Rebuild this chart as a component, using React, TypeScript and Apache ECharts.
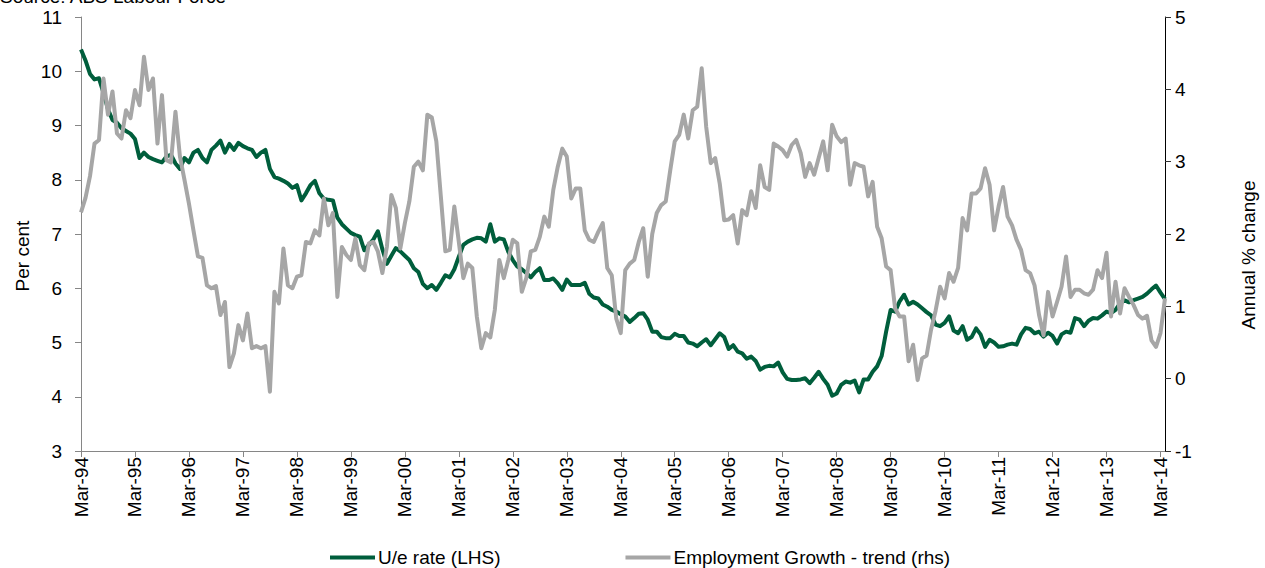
import React, { useEffect, useRef } from "react";
import * as echarts from "echarts";

const MONTHS = ["Jan", "Feb", "Mar", "Apr", "May", "Jun", "Jul", "Aug", "Sep", "Oct", "Nov", "Dec"];
// Monthly categories Mar-94 .. Apr-14
const categories: string[] = [];
for (let i = 0; i < 242; i++) {
  const m = (2 + i) % 12;
  const y = 94 + Math.floor((2 + i) / 12);
  categories.push(`${MONTHS[m]}-${String(y % 100).padStart(2, "0")}`);
}

const unemploymentRate = [
  10.4, 10.2, 9.95, 9.85, 9.87, 9.6, 9.3, 9.1, 9.05, 8.95, 8.9, 8.85,
  8.75, 8.4, 8.5, 8.42, 8.38, 8.35, 8.32, 8.43, 8.46, 8.3, 8.2, 8.4,
  8.32, 8.5, 8.55, 8.4, 8.32, 8.55, 8.63, 8.72, 8.5, 8.66, 8.55, 8.68,
  8.62, 8.58, 8.55, 8.42, 8.5, 8.55, 8.2, 8.05, 8.02, 7.98, 7.93, 7.85,
  7.9, 7.62, 7.75, 7.9, 7.98, 7.75, 7.65, 7.63, 7.62, 7.3, 7.18, 7.1,
  7.02, 6.98, 6.95, 6.7, 6.8, 6.9, 7.05, 6.72, 6.45, 6.6, 6.74, 6.68,
  6.6, 6.52, 6.37, 6.3, 6.08, 6.0, 6.06, 5.97, 6.1, 6.24, 6.2, 6.35,
  6.58, 6.8, 6.86, 6.9, 6.93, 6.92, 6.86, 7.18, 6.86, 6.92, 6.9, 6.67,
  6.52, 6.4, 6.35, 6.28, 6.2, 6.3, 6.37, 6.15, 6.15, 6.18, 6.09, 5.97,
  6.16, 6.06, 6.06, 6.06, 6.1, 5.9, 5.83, 5.81, 5.7, 5.66, 5.6, 5.57,
  5.52, 5.48, 5.38, 5.45, 5.53, 5.54, 5.42, 5.2, 5.2, 5.1, 5.08, 5.08,
  5.16, 5.12, 5.12, 5.0, 4.98, 4.93, 5.0, 5.06, 4.95, 5.06, 5.17, 5.1,
  4.88, 4.95, 4.83, 4.8, 4.7, 4.74, 4.66, 4.5, 4.55, 4.57, 4.56, 4.63,
  4.45, 4.33, 4.31, 4.31, 4.32, 4.34, 4.25, 4.35, 4.46, 4.33, 4.22, 4.02,
  4.06, 4.22, 4.28, 4.26, 4.3, 4.08, 4.32, 4.32, 4.46, 4.56, 4.75, 5.2,
  5.6, 5.57, 5.76, 5.88, 5.7, 5.75, 5.7, 5.63, 5.56, 5.5, 5.33, 5.3,
  5.36, 5.48, 5.22, 5.17, 5.3, 5.05, 5.1, 5.26, 5.15, 4.92, 5.05, 5.0,
  4.92, 4.93, 4.96, 4.98, 4.96, 5.15, 5.27, 5.25, 5.17, 5.2, 5.11, 5.18,
  5.12, 4.98, 5.15, 5.2, 5.18, 5.45, 5.42, 5.3, 5.4, 5.45, 5.44, 5.5,
  5.57, 5.54, 5.6, 5.72, 5.78, 5.74, 5.78, 5.81, 5.84, 5.9, 5.98, 6.05,
  5.92, 5.8,
];

const employmentGrowth = [
  2.3, 2.5, 2.8, 3.25, 3.3, 4.15, 3.65, 3.97, 3.39, 3.32, 3.71, 3.6,
  3.99, 3.78, 4.45, 3.99, 4.15, 3.25, 3.92, 3.02, 2.99, 3.69, 3.07, 2.75,
  2.42, 2.05, 1.69, 1.67, 1.29, 1.25, 1.28, 0.88, 1.06, 0.16, 0.35, 0.74,
  0.53, 0.9, 0.42, 0.45, 0.42, 0.45, -0.18, 1.2, 1.04, 1.8, 1.29, 1.25,
  1.41, 1.43, 1.89, 1.87, 2.05, 1.98, 2.49, 2.12, 2.29, 1.13, 1.82, 1.71,
  1.64, 1.94, 1.57, 1.5, 1.87, 1.89, 1.76, 1.46, 1.82, 2.54, 2.36, 1.8,
  2.15, 2.45, 2.93, 3.0, 2.88, 3.65, 3.61, 3.28, 2.52, 1.76, 1.78, 2.38,
  1.89, 1.39, 1.59, 1.53, 0.86, 0.42, 0.63, 0.57, 0.95, 1.64, 1.39, 1.64,
  1.92, 1.87, 1.2, 1.39, 1.76, 1.78, 1.96, 2.24, 2.1, 2.61, 2.93, 3.18,
  3.07, 2.49, 2.63, 2.63, 2.05, 1.92, 1.89, 2.03, 2.15, 1.53, 1.43, 0.83,
  0.63, 1.5, 1.59, 1.64, 1.89, 2.08, 1.41, 2.0, 2.29, 2.4, 2.45, 2.88,
  3.28, 3.37, 3.65, 3.32, 3.71, 3.76, 4.29, 3.48, 2.98, 3.05, 2.7, 2.19,
  2.2, 2.26, 1.87, 2.33, 2.26, 2.59, 2.36, 2.95, 2.65, 2.61, 3.25, 3.21,
  3.16, 3.07, 3.23, 3.3, 3.12, 2.79, 2.98, 2.82, 3.05, 3.28, 2.88, 3.51,
  3.35, 3.27, 3.32, 2.68, 2.98, 2.95, 2.93, 2.52, 2.72, 2.1, 1.94, 1.55,
  1.5, 0.97, 0.86, 0.86, 0.24, 0.47, -0.02, 0.28, 0.32, 0.68, 0.94, 1.27,
  1.11, 1.46, 1.34, 1.53, 2.22, 2.05, 2.56, 2.56, 2.63, 2.91, 2.68, 2.05,
  2.38, 2.65, 2.24, 2.12, 1.92, 1.78, 1.5, 1.46, 1.29, 0.88, 0.6, 1.2,
  0.86, 1.06, 1.27, 1.69, 1.13, 1.23, 1.23, 1.18, 1.16, 1.23, 1.5, 1.39,
  1.74, 0.86, 1.34, 0.9, 1.25, 1.13, 1.02, 0.88, 0.83, 0.87, 0.53, 0.44,
  0.63, 1.11,
];

const leftTicks = { min: 3, max: 11, interval: 1 };
const rightTicks = { min: -1, max: 5, interval: 1 };

const FONT = "'Liberation Sans', Arial, sans-serif";
const FS = 19;
const GREEN = "#005E3C";
const GREY = "#A6A6A6";

export default function App() {
  const ref = useRef<HTMLDivElement>(null);
  useEffect(() => {
    document.body.style.margin = "0";
    const chart = echarts.init(ref.current!, null, { renderer: "svg" });
    chart.setOption({
      animation: false,
      textStyle: { fontFamily: FONT },
      grid: { left: 81, right: 100, top: 17, bottom: 117, containLabel: false },
      legend: {
        left: 325,
        top: 543,
        itemGap: 125,
        itemWidth: 45,
        itemHeight: 4,
        icon: "rect",
        textStyle: { fontFamily: FONT, fontSize: FS, color: "#000", padding: [0, 0, 0, -2] },
        data: ["U/e rate (LHS)", "Employment Growth - trend (rhs)"],
      },
      graphic: [
        {
          type: "text",
          left: 0,
          top: -13,
          style: { text: "Source: ABS Labour Force", font: `${FS}px ${FONT}`, fill: "#000" },
        },
        {
          type: "text",
          x: 22,
          y: 256,
          rotation: Math.PI / 2,
          style: { text: "Per cent", font: `${FS}px ${FONT}`, fill: "#000", align: "center", verticalAlign: "middle" },
        },
        {
          type: "text",
          x: 1248,
          y: 255,
          rotation: Math.PI / 2,
          style: { text: "Annual % change", font: `${FS}px ${FONT}`, fill: "#000", align: "center", verticalAlign: "middle" },
        },
      ],
      xAxis: {
        type: "category",
        data: categories,
        boundaryGap: false,
        axisLine: { onZero: false, lineStyle: { color: "#868686", width: 1 } },
        axisTick: {
          length: 6,
          interval: (idx: number) => idx % 12 === 0,
          lineStyle: { color: "#868686" },
        },
        axisLabel: {
          interval: (idx: number) => idx % 12 === 0,
          rotate: 90,
          margin: 6,
          fontSize: FS,
          fontFamily: FONT,
          color: "#000",
        },
        splitLine: { show: false },
      },
      yAxis: [
        {
          type: "value",
          ...leftTicks,
          position: "left",
          axisLine: { show: true, lineStyle: { color: "#868686", width: 1 } },
          axisTick: { show: true, length: 6, lineStyle: { color: "#868686" } },
          axisLabel: { margin: 19, fontSize: FS, fontFamily: FONT, color: "#000" },
          splitLine: { show: false },
        },
        {
          type: "value",
          ...rightTicks,
          position: "right",
          axisLine: { show: true, lineStyle: { color: "#000", width: 1 } },
          axisTick: { show: true, length: 6, lineStyle: { color: "#333" } },
          axisLabel: { margin: 10, fontSize: FS, fontFamily: FONT, color: "#000" },
          splitLine: { show: false },
        },
      ],
      series: [
        {
          name: "U/e rate (LHS)",
          type: "line",
          yAxisIndex: 0,
          data: unemploymentRate,
          symbol: "none",
          lineStyle: { color: GREEN, width: 4, join: "round" },
          itemStyle: { color: GREEN },
        },
        {
          name: "Employment Growth - trend (rhs)",
          type: "line",
          yAxisIndex: 1,
          data: employmentGrowth,
          symbol: "none",
          lineStyle: { color: GREY, width: 4, join: "round" },
          itemStyle: { color: GREY },
        },
      ],
    });
    return () => chart.dispose();
  }, []);
  return (
    <div
      ref={ref}
      style={{ position: "absolute", left: 0, top: 0, width: 1265, height: 568 }}
    />
  );
}
